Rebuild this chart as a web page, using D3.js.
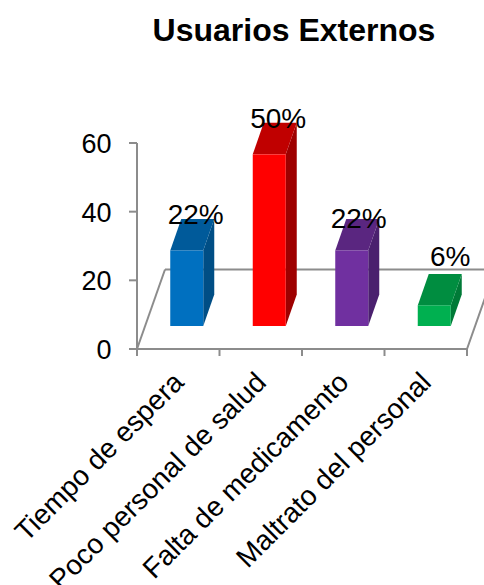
<!DOCTYPE html>
<html><head><meta charset="utf-8">
<script src="https://cdn.jsdelivr.net/npm/d3@7"></script>
<style>html,body{margin:0;padding:0;background:#fff;overflow:hidden}svg{display:block}text{font-family:"Liberation Sans",Arial,sans-serif;fill:#000}</style>
</head><body><svg id="c" width="484" height="585"></svg>
<script>
const categories=["Tiempo de espera","Poco personal de salud","Falta de medicamento","Maltrato del personal"];
const values=[22,50,22,6];
const valueLabels=["22%","50%","22%","6%"];
const yTicks=[0,20,40,60];
const frontColors=["#0070C0","#FF0000","#7030A0","#00B050"];
const topColors=["#005A9A","#C00000","#5A2680","#008D40"];
const sideColors=["#004E85","#9E0000","#4A206E","#007A37"];
const title="Usuarios Externos";

const svg=d3.select("#c");
const axisColor="#8c8c8c";
const x=d3.scaleBand().domain(categories).range([137,467]);
const y=d3.scaleLinear().domain([0,60]).range([349,143]);
const floorDx=28, floorDy=-79.5;
const barShiftX=8.5, barBase=y(0)-23, barDx=11, barDy=-31.5, barW=33;
const labelNudgeX=[0,0,-2,7], labelNudgeY=[0,0,4,-13];

svg.append("text").attr("x",294).attr("y",41).attr("text-anchor","middle")
  .attr("font-size",32).attr("font-weight","bold").text(title);

const g=svg.append("g").attr("stroke",axisColor).attr("stroke-width",2).attr("fill","none");
g.append("line").attr("x1",x.range()[0]).attr("x2",x.range()[0]).attr("y1",y(60)).attr("y2",y(0));
g.append("line").attr("x1",x.range()[0]).attr("x2",x.range()[1]).attr("y1",y(0)).attr("y2",y(0));
g.append("line").attr("x1",x.range()[0]).attr("y1",y(0)).attr("x2",x.range()[0]+floorDx).attr("y2",y(0)+floorDy);
g.append("line").attr("x1",x.range()[0]+floorDx).attr("y1",y(0)+floorDy).attr("x2",484).attr("y2",y(0)+floorDy);
g.append("line").attr("x1",x.range()[1]).attr("y1",y(0)).attr("x2",x.range()[1]+floorDx).attr("y2",y(0)+floorDy);
g.selectAll(".yt").data(yTicks).join("line").attr("x1",129).attr("x2",137).attr("y1",d=>y(d)).attr("y2",d=>y(d));
const edges=categories.map(c=>x(c)).concat(x.range()[1]);
g.selectAll(".xt").data(edges).join("line").attr("x1",d=>d).attr("x2",d=>d).attr("y1",y(0)).attr("y2",y(0)+7);

svg.selectAll(".yl").data(yTicks).join("text").attr("x",111.5).attr("y",d=>y(d)+10)
  .attr("text-anchor","end").attr("font-size",27).text(d=>d);

const bars=svg.selectAll(".bar").data(categories).join("g");
const left=c=>x(c)+x.bandwidth()/2+barShiftX-barW/2;
const top_=i=>barBase-(y(0)-y(values[i]));
bars.append("path").attr("fill",(c,i)=>sideColors[i]).attr("d",(c,i)=>{
  const r=left(c)+barW,t=top_(i);
  return `M${r},${barBase}L${r+barDx},${barBase+barDy}L${r+barDx},${t+barDy}L${r},${t}Z`;});
bars.append("path").attr("fill",(c,i)=>topColors[i]).attr("d",(c,i)=>{
  const l=left(c),r=l+barW,t=top_(i);
  return `M${l},${t}L${l+barDx},${t+barDy}L${r+barDx},${t+barDy}L${r},${t}Z`;});
bars.append("rect").attr("fill",(c,i)=>frontColors[i]).attr("x",c=>left(c)).attr("width",barW)
  .attr("y",(c,i)=>top_(i)).attr("height",(c,i)=>barBase-top_(i));

svg.selectAll(".vl").data(categories).join("text").attr("text-anchor","middle").attr("font-size",28)
  .attr("x",(c,i)=>left(c)+barW/2+9+labelNudgeX[i]).attr("y",(c,i)=>top_(i)-26+labelNudgeY[i]).text((c,i)=>valueLabels[i]);

svg.selectAll(".xl").data(categories).join("text").attr("text-anchor","end").attr("font-size",28)
  .attr("transform",c=>`translate(${x(c)+x.bandwidth()/2+7},${y(0)+35}) rotate(-45)`).text(c=>c);
</script></body></html>
